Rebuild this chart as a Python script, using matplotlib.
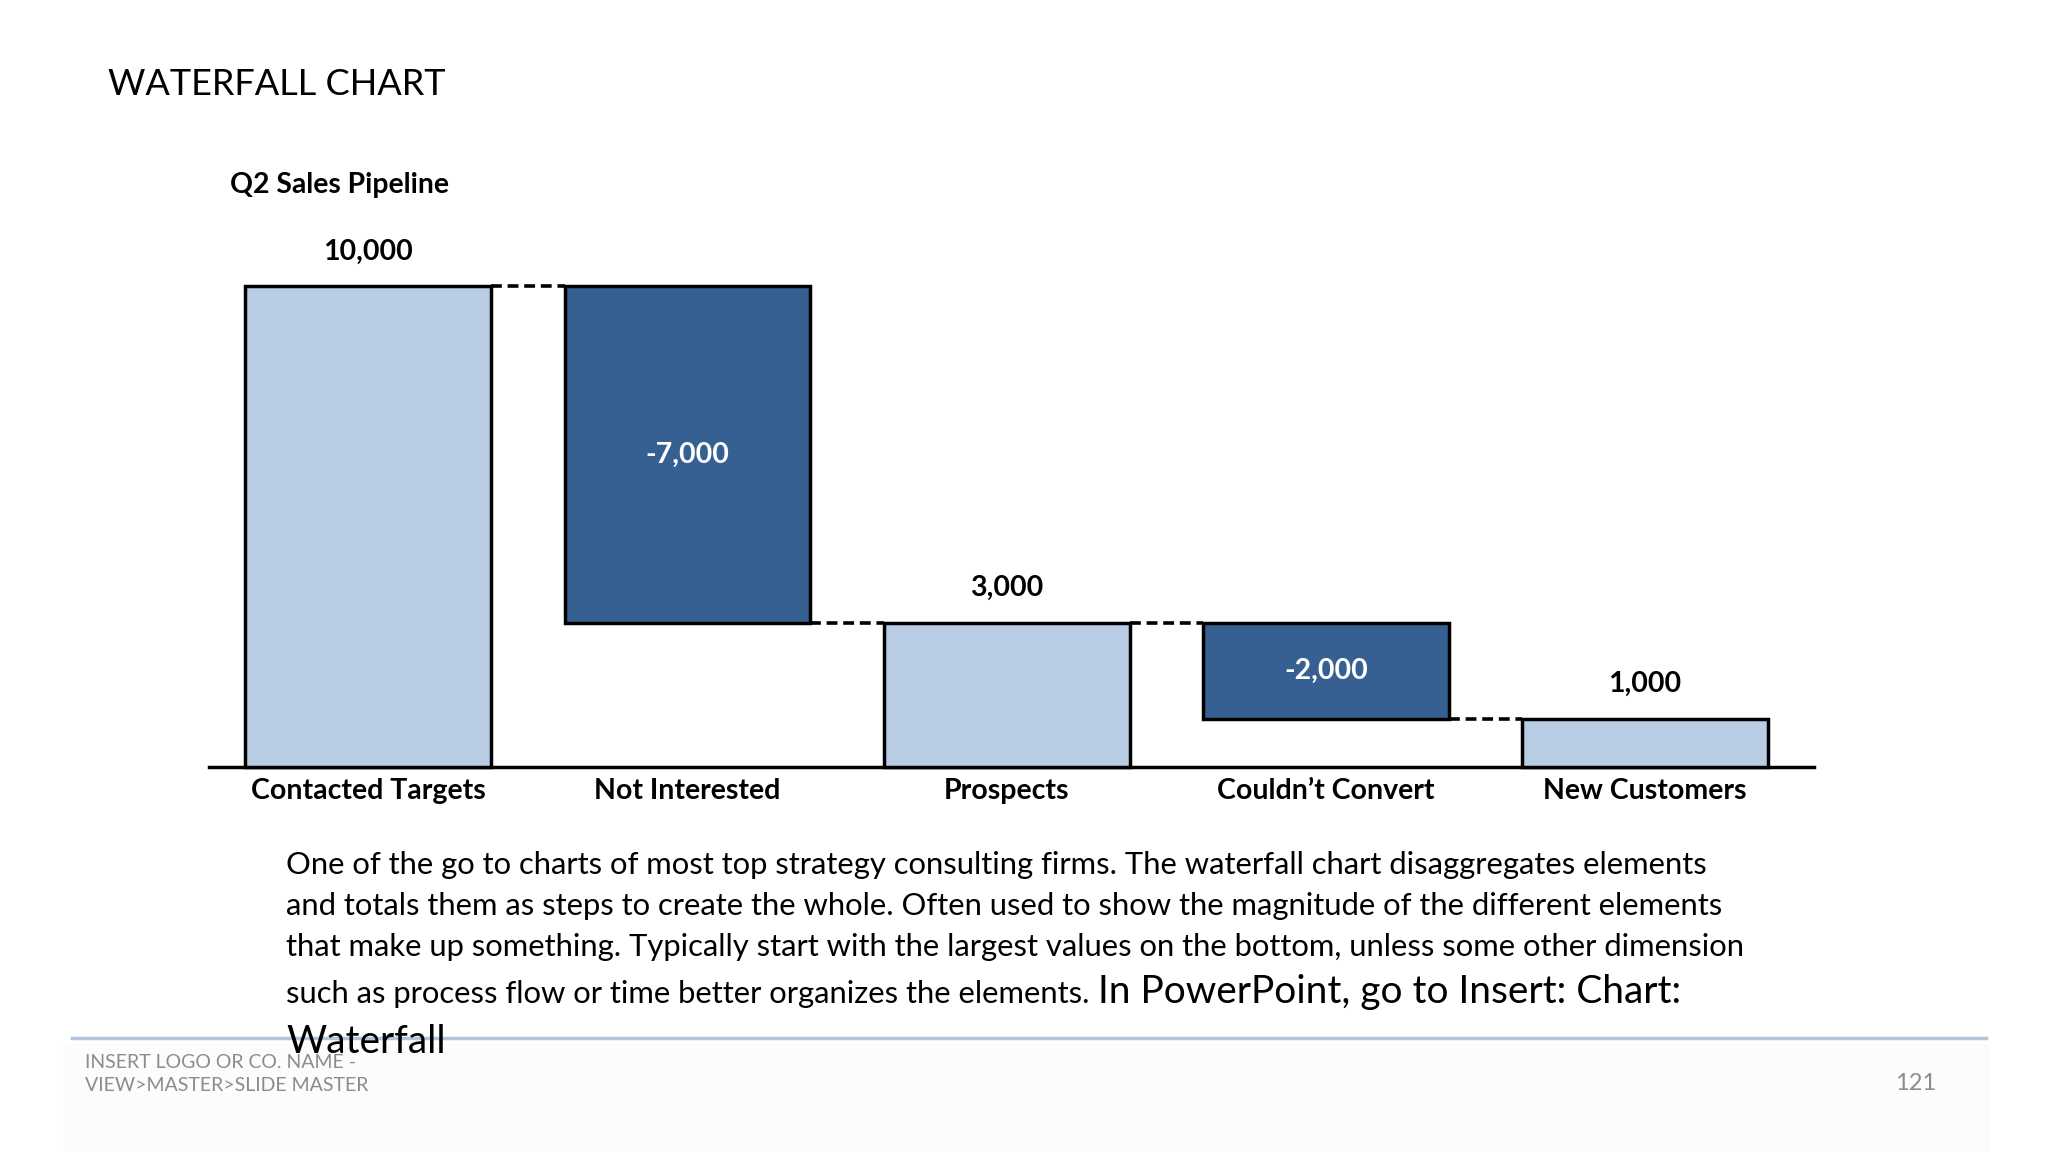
import numpy as np
import matplotlib
matplotlib.use("Agg")
from matplotlib import pyplot as plt
from matplotlib.patches import Rectangle

categories = ['Contacted Targets', 'Not Interested', 'Prospects', 'Couldn\u2019t Convert', 'New Customers']
values = [10000, -7000, 3000, -2000, 1000]
is_total = [True, False, True, False, True]

light = '#B8CCE4'
dark = '#376092'
plt.rcParams['font.family'] = ['Lato', 'DejaVu Sans']

fig = plt.figure(figsize=(20.48, 11.52), dpi=100)
W, H = 1560.0, 877.5  # reference sizes used for placement
def fx(x): return x / W
def fy(y): return 1 - y / H

# faint footer background
fig.patches.append(Rectangle((fx(48), 0), fx(1516) - fx(48), fy(795), transform=fig.transFigure,
                             facecolor='#FCFCFC', edgecolor='none', zorder=0))

ax = fig.add_axes([fx(159), fy(584), fx(1382) - fx(159), fy(181.4) - fy(584)])
ax.set_xlim(-0.5, 4.53)
ax.set_ylim(0, 11000)

width = 0.77
running = 0
levels = []
for i, v in enumerate(values):
    if is_total[i]:
        bottom, height = 0, v
        running = v
        color = light
    else:
        bottom, height = running + v, -v
        running = running + v
        color = dark
    levels.append(running)
    ax.bar(i, height, width, bottom=bottom, color=color, edgecolor='black', linewidth=2.5, zorder=3, clip_on=False)
    if is_total[i]:
        ax.annotate(f"{v:,}", (i, bottom + height), xytext=(0, 25), textcoords='offset points',
                    ha='center', va='center', fontsize=20.5, fontweight='bold', color='black')
    else:
        ax.text(i, bottom + height / 2, f"{v:,}", ha='center', va='center', fontsize=20.5,
                fontweight='bold', color='white', zorder=4)

# dashed connectors
for i in range(len(values) - 1):
    ax.plot([i + width / 2, i + 1 - width / 2], [levels[i], levels[i]], color='black',
            linestyle=(0, (3, 1.6)), linewidth=2.6, zorder=2, clip_on=False)

for s in ['top', 'right', 'left']:
    ax.spines[s].set_visible(False)
ax.spines['bottom'].set_linewidth(2.5)
ax.set_yticks([])
ax.set_xticks(range(len(categories)))
ax.set_xticklabels(categories, fontsize=20.5, fontweight='bold')
ax.tick_params(axis='x', length=0, pad=8)

fig.text(fx(82), fy(64), 'WATERFALL CHART', fontsize=26, va='center', ha='left')
fig.text(fx(175), fy(141), 'Q2 Sales Pipeline', fontsize=20.4, fontweight='bold', va='center', ha='left')

lines = ['One of the go to charts of most top strategy consulting firms. The waterfall chart disaggregates elements',
         'and totals them as steps to create the whole. Often used to show the magnitude of the different elements',
         'that make up something. Typically start with the largest values on the bottom, unless some other dimension']
baselines = [666, 697, 728]
for ln, b in zip(lines, baselines):
    fig.text(fx(218), fy(b), ln, fontsize=22.3, va='baseline', ha='left')

t1 = fig.text(fx(218), fy(764), 'such as process flow or time better organizes the elements.', fontsize=22.3,
              va='baseline', ha='left')
fig.canvas.draw()
bb = t1.get_window_extent(renderer=fig.canvas.get_renderer())
x_end = bb.x1 / fig.bbox.width
fig.text(x_end + 0.004, fy(764), 'In PowerPoint, go to Insert: Chart:', fontsize=28, va='baseline', ha='left')
fig.text(fx(218), fy(802), 'Waterfall', fontsize=28, va='baseline', ha='left', zorder=5)

# footer
fig.add_artist(plt.Line2D([fx(55), fx(1513)], [fy(791), fy(791)], transform=fig.transFigure,
                          color='#B4C4DC', linewidth=2.5, zorder=1))
fig.text(fx(65), fy(809), 'INSERT LOGO OR CO. NAME -', fontsize=14, color='#8C8C8C', va='center', ha='left')
fig.text(fx(65), fy(827), 'VIEW>MASTER>SLIDE MASTER', fontsize=14, color='#8C8C8C', va='center', ha='left')
fig.text(fx(1475), fy(825), '121', fontsize=17, color='#8C8C8C', va='center', ha='right')

fig.savefig('out.png', dpi=100)
